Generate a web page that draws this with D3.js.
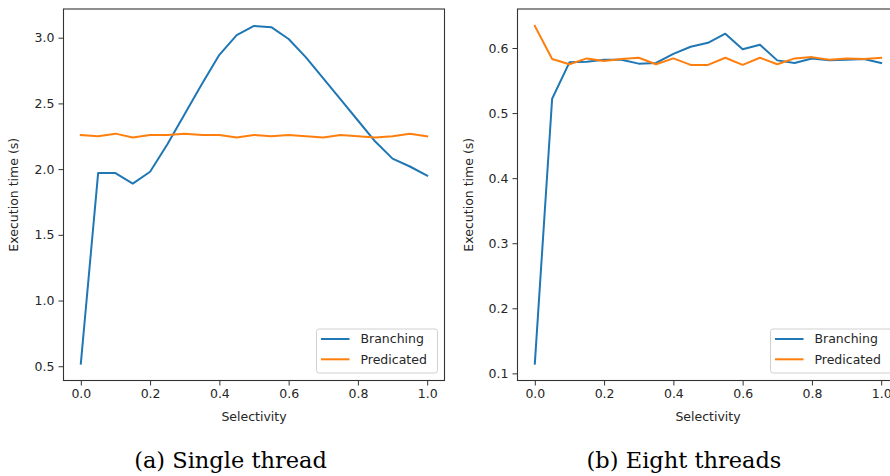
<!DOCTYPE html>
<html>
<head>
<meta charset="utf-8">
<script src="https://cdn.jsdelivr.net/npm/d3@7"></script>
<style>
  html, body { margin: 0; padding: 0; background: #fff; overflow: hidden; }
  svg { display: block; }
  text { font-family: "DejaVu Sans", sans-serif; fill: #262626; }
  text.caption { font-family: "DejaVu Serif", "Liberation Serif", serif; fill: #000; }
</style>
</head>
<body>
<svg id="chart" width="890" height="476"></svg>
<script>
// ---- data ----
const selectivity = [0, 0.05, 0.1, 0.15, 0.2, 0.25, 0.3, 0.35, 0.4, 0.45, 0.5,
                     0.55, 0.6, 0.65, 0.7, 0.75, 0.8, 0.85, 0.9, 0.95, 1.0];
const singleBranching  = [0.52, 1.97, 1.97, 1.89, 1.98, 2.19, 2.42, 2.65, 2.87, 3.02, 3.09,
                          3.08, 2.99, 2.85, 2.69, 2.53, 2.37, 2.21, 2.08, 2.02, 1.95];
const singlePredicated = [2.26, 2.25, 2.27, 2.24, 2.26, 2.26, 2.27, 2.26, 2.26, 2.24, 2.26,
                          2.25, 2.26, 2.25, 2.24, 2.26, 2.25, 2.24, 2.25, 2.27, 2.25];
const eightBranching   = [0.115, 0.522, 0.578, 0.579, 0.582, 0.582, 0.576, 0.577, 0.591, 0.602, 0.608,
                          0.622, 0.598, 0.605, 0.581, 0.577, 0.584, 0.581, 0.582, 0.583, 0.577];
const eightPredicated  = [0.634, 0.583, 0.575, 0.584, 0.580, 0.583, 0.585, 0.575, 0.584, 0.574, 0.574,
                          0.585, 0.574, 0.585, 0.575, 0.584, 0.586, 0.582, 0.584, 0.583, 0.585];
const xTicks = [0, 0.2, 0.4, 0.6, 0.8, 1.0];
const singleYTicks = [0.5, 1.0, 1.5, 2.0, 2.5, 3.0];
const eightYTicks = [0.1, 0.2, 0.3, 0.4, 0.5, 0.6];
const seriesNames = ["Branching", "Predicated"];
const colors = ["#1f77b4", "#ff7f0e"];
const xLabel = "Selectivity";
const yLabel = "Execution time (s)";
const captions = ["(a) Single thread", "(b) Eight threads"];

const svg = d3.select("#chart");

function pad(ext) {
  const r = ext[1] - ext[0];
  return [ext[0] - 0.05 * r, ext[1] + 0.05 * r];
}

function panel(cfg) {
  const { left, top, width, height, series, yTicks, ylabelX, legendX, legendW, caption, captionX } = cfg;
  const g = svg.append("g");
  const x = d3.scaleLinear().domain(pad(d3.extent(selectivity))).range([left, left + width]);
  const allY = series.flat();
  const y = d3.scaleLinear().domain(pad(d3.extent(allY))).range([top + height, top]);

  const clipId = "clip" + Math.round(left);
  svg.append("clipPath").attr("id", clipId).append("rect")
    .attr("x", left).attr("y", top).attr("width", width).attr("height", height);

  const line = d3.line().x((d, i) => x(selectivity[i])).y(d => y(d));
  series.forEach((s, k) => {
    g.append("path").datum(s)
      .attr("clip-path", `url(#${clipId})`)
      .attr("fill", "none").attr("stroke", colors[k])
      .attr("stroke-width", 2).attr("stroke-linejoin", "round").attr("stroke-linecap", "square")
      .attr("d", line);
  });

  const xAxis = d3.axisBottom(x).tickValues(xTicks).tickFormat(d3.format(".1f")).tickSize(5).tickPadding(4);
  const yAxis = d3.axisLeft(y).tickValues(yTicks).tickFormat(d3.format(".1f")).tickSize(5).tickPadding(4);
  const gx = g.append("g").attr("transform", `translate(0,${top + height})`).call(xAxis);
  const gy = g.append("g").attr("transform", `translate(${left},0)`).call(yAxis);
  [gx, gy].forEach(a => {
    a.select(".domain").remove();
    a.selectAll(".tick line").attr("stroke", "#333").attr("stroke-width", 1);
    a.selectAll(".tick text").attr("font-size", 12.5).attr("fill", "#262626")
      .style("font-family", "'DejaVu Sans', sans-serif");
  });

  g.append("rect").attr("x", left).attr("y", top).attr("width", width).attr("height", height)
    .attr("fill", "none").attr("stroke", "#333").attr("stroke-width", 1.1);

  g.append("text").attr("x", left + width / 2).attr("y", top + height + 40)
    .attr("text-anchor", "middle").attr("font-size", 12.5).text(xLabel);
  g.append("text").attr("transform", `translate(${ylabelX},${top + height / 2}) rotate(-90)`)
    .attr("text-anchor", "middle").attr("font-size", 12.5).text(yLabel);

  const ly = 329;
  const lg = g.append("g");
  lg.append("rect").attr("x", legendX).attr("y", ly).attr("width", legendW).attr("height", 44)
    .attr("rx", 2.5).attr("fill", "#fff").attr("fill-opacity", 0.8)
    .attr("stroke", "#d0d0d0").attr("stroke-width", 1);
  seriesNames.forEach((n, k) => {
    const yy = ly + 10 + k * 20.3;
    lg.append("line").attr("x1", legendX + 4.5).attr("x2", legendX + 33).attr("y1", yy).attr("y2", yy)
      .attr("stroke", colors[k]).attr("stroke-width", 2);
    lg.append("text").attr("x", legendX + 44).attr("y", yy).attr("dy", "0.35em")
      .attr("font-size", 12.5).text(n);
  });

  svg.append("text").attr("class", "caption").attr("x", captionX).attr("y", 468)
    .attr("text-anchor", "middle").attr("font-size", 22.5).text(caption);
}

panel({ left: 63.5, top: 9, width: 381, height: 371.5,
        series: [singleBranching, singlePredicated], yTicks: singleYTicks,
        ylabelX: 18, legendX: 316.5, legendW: 121, caption: captions[0], captionX: 230.5 });
panel({ left: 517.5, top: 9, width: 381, height: 371.5,
        series: [eightBranching, eightPredicated], yTicks: eightYTicks,
        ylabelX: 473, legendX: 770.5, legendW: 121, caption: captions[1], captionX: 684 });
</script>
</body>
</html>
